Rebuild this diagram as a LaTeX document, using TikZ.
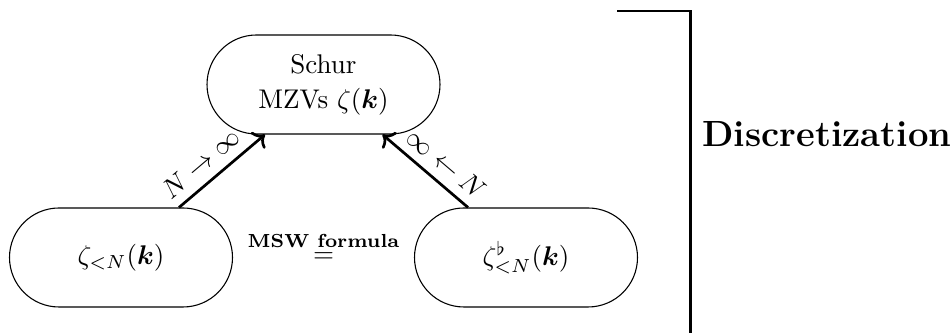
\documentclass[tikz,border=0pt]{standalone}
\usepackage{amsmath}
\usetikzlibrary{arrows.meta}
\begin{document}
\def\px{0.3704pt}
\begin{tikzpicture}[x=0.3704pt,y=-0.3704pt,
  box/.style={draw, line width=0.4pt, rounded corners=18.33pt, minimum height=36.67pt, inner sep=0pt, align=center},
  conn/.style={->, line width=1pt},
  lbl/.style={sloped, above, pos=0.4},
  brk/.style={line width=0.8pt}]
\useasboundingbox (0,0) rectangle (952,333);
\node[box, minimum width=86.3pt] (top) at (323.5,84.5) {Schur\\[1pt]MZVs $\zeta(\boldsymbol{k})$};
\node[box, minimum width=82.6pt] (left) at (121,257.5) {$\zeta_{<N}(\boldsymbol{k})$};
\node[box, minimum width=82.6pt] (right) at (526,257.5) {$\zeta^{\flat}_{<N}(\boldsymbol{k})$};
\node[anchor=base, inner sep=0pt] (eq) at (323.5,262.5) {$\overset{\textbf{MSW formula}}{=}$};
\draw[conn] ([xshift=58*\px]left.north) -- ([xshift=-58.5*\px]top.south) node[lbl] {$N\to\infty$};
\draw[conn] ([xshift=-58*\px]right.north) -- ([xshift=59*\px]top.south) node[lbl] {$\infty\leftarrow N$};
\node[anchor=base west, inner sep=0pt, font=\fontsize{13.5}{16}\selectfont\bfseries] (disc) at (702,147) {Discretization};
\coordinate (b1) at (617,11);
\coordinate (b2) at (690.5,11);
\coordinate (b3) at (690.5,333);
\draw[brk] (b1) -- (b2) -- (b3);
\end{tikzpicture}
\end{document}
